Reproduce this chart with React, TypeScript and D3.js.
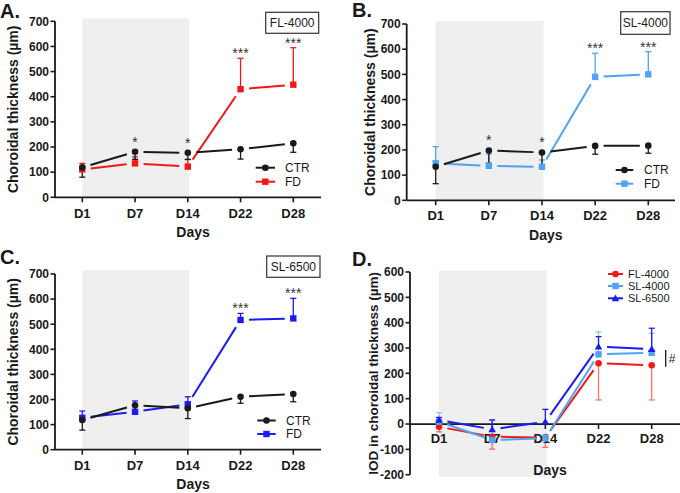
import React from "react";
import * as d3 from "d3";

// ---------- data ----------
const days = ["D1", "D7", "D14", "D22", "D28"];
const thickTicks = [0, 100, 200, 300, 400, 500, 600, 700];
const iodTicks = [-200, -100, 0, 100, 200, 300, 400, 500, 600];

// Panel A (FL-4000)
const ctrA = [119, 181, 177, 191, 215];
const ctrAErr = [39, 30, 26, 39, 36];
const fdA = [111, 135, 122, 430, 448];
const fdAErr = [24, 26, 28, 123, 147];
const sigA = ["", "*", "*", "***", "***"];

// Panel B (SL-4000)
const ctrB = [133, 198, 190, 216, 217];
const ctrBErr = [67, 51, 67, 33, 30];
const fdB = [147, 137, 133, 490, 500];
const fdBErr = [66, 47, 27, 94, 90];
const sigB = ["", "*", "*", "***", "***"];

// Panel C (SL-6500)
const ctrC = [118, 177, 165, 211, 222];
const ctrCErr = [40, 20, 41, 26, 31];
const fdC = [127, 151, 181, 517, 523];
const fdCErr = [27, 43, 30, 26, 80];
const sigC = ["", "", "", "***", "***"];

// Panel D (IOD)
const iodFL4000 = [-11, -50, -54, 240, 232];
const iodFL4000Err = [20, 49, 38, 145, 137];
const iodSL4000 = [9, -63, -56, 275, 281];
const iodSL4000Err = [36, 80, 15, 89, 77];
const iodSL6500 = [16, -21, 9, 305, 296];
const iodSL6500Err = [10, 37, 49, 40, 82];

// ---------- styles ----------
const FONT = "'Liberation Sans', Arial, Helvetica, sans-serif";
const BLACK = "#1a1a1a";
const RED = "#f21818";
const LBLUE = "#4fa3f2";
const DBLUE = "#1c1cf0";
const GRAY = "#efefef";

type Marker = "circle" | "square" | "triangle";
type Series = {
  name: string;
  values: number[];
  errs: number[];
  dir: number; // +1 up, -1 down
  color: string;
  errOpacity: number;
  marker: Marker;
};

type PanelCfg = {
  letter: string;
  letterX: number;
  letterY: number;
  axisX: number;
  axisEndX: number;
  xFirst: number;
  xLast: number;
  yDomain: [number, number];
  yRange: [number, number];
  ticks: number[];
  grayTopVal: number;
  grayBottom: number;
  xAxisAtZero: boolean;
  tickLabelDy: number;
  daysY: number;
  yLabel: string;
  yLabelX: number;
  yLabelSize: number;
  series: Series[];
  sig?: string[];
  box?: { text: string; x: number; y: number; w: number; h: number };
  legend: { x1: number; x2: number; tx: number; ys: number[]; size: number };
  hash?: { x: number; y1: number; y2: number };
};

function MarkerShape({ m, x, y, color }: { m: Marker; x: number; y: number; color: string }) {
  if (m === "circle") return <circle cx={x} cy={y} r={3.3} fill={color} />;
  if (m === "square") return <rect x={x - 3.2} y={y - 3.2} width={6.4} height={6.4} fill={color} />;
  const s = 3.8;
  return <path d={`M${x},${y - s}L${x + s},${y + s * 0.75}L${x - s},${y + s * 0.75}Z`} fill={color} />;
}

function gapSeg(p: [number, number], q: [number, number], gap: number) {
  const dx = q[0] - p[0];
  const dy = q[1] - p[1];
  const len = Math.sqrt(dx * dx + dy * dy);
  const ux = dx / len;
  const uy = dy / len;
  return [p[0] + ux * gap, p[1] + uy * gap, q[0] - ux * gap, q[1] - uy * gap];
}

function Panel({ c }: { c: PanelCfg }) {
  const x = d3.scalePoint<string>().domain(days).range([c.xFirst, c.xLast]);
  const y = d3.scaleLinear().domain(c.yDomain).range(c.yRange);
  const xAxisY = c.xAxisAtZero ? y(0) : c.yRange[0];
  const grayX1 = x("D1")!;
  const grayX2 = x("D14")! + 1.5;
  const grayTop = y(c.grayTopVal);
  const yMid = (c.yRange[0] + c.yRange[1]) / 2;

  return (
    <g fontFamily={FONT}>
      <rect x={grayX1} y={grayTop} width={grayX2 - grayX1} height={c.grayBottom - grayTop} fill={GRAY} />
      {/* y axis */}
      <line x1={c.axisX} x2={c.axisX} y1={c.yRange[0]} y2={c.yRange[1]} stroke={BLACK} strokeWidth={1.8} />
      {c.ticks.map((t) => (
        <g key={"yt" + t}>
          <line x1={c.axisX - 4.5} x2={c.axisX} y1={y(t)} y2={y(t)} stroke={BLACK} strokeWidth={1.6} />
          <text x={c.axisX - 6} y={y(t) + 4.3} textAnchor="end" fontSize={12} fontWeight="bold" fill={BLACK}>
            {t}
          </text>
        </g>
      ))}
      {/* x axis */}
      <line x1={c.axisX} x2={c.axisEndX} y1={xAxisY} y2={xAxisY} stroke={BLACK} strokeWidth={1.8} />
      {days.map((d) => (
        <g key={"xt" + d}>
          <line x1={x(d)!} x2={x(d)!} y1={xAxisY} y2={xAxisY + 5} stroke={BLACK} strokeWidth={1.6} />
          <text x={x(d)!} y={xAxisY + c.tickLabelDy} textAnchor="middle" fontSize={13} fontWeight="bold" fill={BLACK}>
            {d}
          </text>
        </g>
      ))}
      <text x={(c.axisX + c.axisEndX) / 2 + 5} y={c.daysY} textAnchor="middle" fontSize={14} fontWeight="bold" fill={BLACK}>
        Days
      </text>
      <text
        transform={`translate(${c.yLabelX},${yMid}) rotate(-90)`}
        textAnchor="middle"
        fontSize={c.yLabelSize}
        fontWeight="bold"
        fill={BLACK}
      >
        {c.yLabel}
      </text>
      <text x={c.letterX} y={c.letterY} fontSize={20} fontWeight="bold" fill={BLACK}>
        {c.letter}
      </text>

      {/* series lines */}
      {c.series.map((s) => (
        <g key={"l" + s.name}>
          {s.values.slice(1).map((v, i) => {
            const p: [number, number] = [x(days[i])!, y(s.values[i])];
            const q: [number, number] = [x(days[i + 1])!, y(v)];
            const [a, b, cc, dd] = gapSeg(p, q, 8.5);
            return <line key={i} x1={a} y1={b} x2={cc} y2={dd} stroke={s.color} strokeWidth={2} />;
          })}
        </g>
      ))}
      {/* error bars */}
      {c.series.map((s) => (
        <g key={"e" + s.name} opacity={s.errOpacity}>
          {s.values.map((v, i) => {
            const xv = x(days[i])!;
            const y1 = y(v);
            const y2 = y(v + s.dir * s.errs[i]);
            return (
              <g key={i}>
                <line x1={xv} x2={xv} y1={y1} y2={y2} stroke={s.color} strokeWidth={1.3} />
                <line x1={xv - 3} x2={xv + 3} y1={y2} y2={y2} stroke={s.color} strokeWidth={1.3} />
              </g>
            );
          })}
        </g>
      ))}
      {/* markers */}
      {c.series.map((s) => (
        <g key={"m" + s.name}>
          {s.values.map((v, i) => (
            <MarkerShape key={i} m={s.marker} x={x(days[i])!} y={y(v)} color={s.color} />
          ))}
        </g>
      ))}
      {/* significance stars */}
      {c.sig &&
        c.sig.map((st, i) => {
          if (!st) return null;
          const top = Math.max(
            ...c.series.map((s) => (s.dir > 0 ? s.values[i] + s.errs[i] : s.values[i]))
          );
          const off = st.length > 1 ? 8 : 13;
          const cy = y(top) - off;
          return (
            <text key={"s" + i} x={x(days[i])!} y={cy + 8} textAnchor="middle" fontSize={14} fill="#333">
              {st}
            </text>
          );
        })}
      {/* box label */}
      {c.box && (
        <g>
          <rect x={c.box.x} y={c.box.y} width={c.box.w} height={c.box.h} fill="white" stroke="#333" strokeWidth={1.2} />
          <text x={c.box.x + c.box.w / 2} y={c.box.y + c.box.h / 2 + 4.3} textAnchor="middle" fontSize={12} fill={BLACK}>
            {c.box.text}
          </text>
        </g>
      )}
      {/* legend */}
      {c.legend.ys.map((ly, i) => {
        const s = c.series[c.series.length === 2 ? 1 - i : i];
        const mx = (c.legend.x1 + c.legend.x2) / 2;
        return (
          <g key={"lg" + i}>
            <line x1={c.legend.x1} x2={c.legend.x2} y1={ly} y2={ly} stroke={s.color} strokeWidth={2} />
            <MarkerShape m={s.marker} x={mx} y={ly} color={s.color} />
            <text x={c.legend.tx} y={ly + c.legend.size * 0.36} fontSize={c.legend.size} fill={BLACK}>
              {s.name}
            </text>
          </g>
        );
      })}
      {c.hash && (
        <g>
          <line x1={c.hash.x} x2={c.hash.x} y1={c.hash.y1} y2={c.hash.y2} stroke={BLACK} strokeWidth={1.3} />
          <text x={c.hash.x + 3} y={(c.hash.y1 + c.hash.y2) / 2 + 4.5} fontSize={12} fill={BLACK}>
            #
          </text>
        </g>
      )}
    </g>
  );
}

function mk(name: string, values: number[], errs: number[], dir: number, color: string, marker: Marker, errOpacity = 1): Series {
  return { name, values, errs, dir, color, marker, errOpacity };
}

const panels: PanelCfg[] = [
  {
    letter: "A.",
    letterX: 0,
    letterY: 18,
    axisX: 55,
    axisEndX: 321,
    xFirst: 82.3,
    xLast: 293.3,
    yDomain: [0, 700],
    yRange: [197.3, 21.3],
    ticks: thickTicks,
    grayTopVal: 712,
    grayBottom: 197.3,
    xAxisAtZero: false,
    tickLabelDy: 20.5,
    daysY: 237,
    yLabel: "Choroidal thickness (µm)",
    yLabelX: 18,
    yLabelSize: 14,
    series: [mk("FD", fdA, fdAErr, 1, RED, "square"), mk("CTR", ctrA, ctrAErr, -1, BLACK, "circle")],
    sig: sigA,
    box: { text: "FL-4000", x: 265.7, y: 12.3, w: 53, h: 21 },
    legend: { x1: 255.7, x2: 275, tx: 285, ys: [167.7, 181.7], size: 12 },
  },
  {
    letter: "B.",
    letterX: 352,
    letterY: 17,
    axisX: 406.7,
    axisEndX: 675,
    xFirst: 435.7,
    xLast: 648.3,
    yDomain: [0, 700],
    yRange: [200.3, 24],
    ticks: thickTicks,
    grayTopVal: 712,
    grayBottom: 200.3,
    xAxisAtZero: false,
    tickLabelDy: 19.5,
    daysY: 240,
    yLabel: "Choroidal thickness (µm)",
    yLabelX: 375,
    yLabelSize: 14,
    series: [mk("FD", fdB, fdBErr, 1, LBLUE, "square"), mk("CTR", ctrB, ctrBErr, -1, BLACK, "circle")],
    sig: sigB,
    box: { text: "SL-4000", x: 620.7, y: 11.7, w: 49.3, h: 22.6 },
    legend: { x1: 615.7, x2: 633.3, tx: 644, ys: [170, 183.7], size: 12 },
  },
  {
    letter: "C.",
    letterX: 0,
    letterY: 264,
    axisX: 55,
    axisEndX: 321,
    xFirst: 82.3,
    xLast: 293.3,
    yDomain: [0, 700],
    yRange: [449.7, 274],
    ticks: thickTicks,
    grayTopVal: 715,
    grayBottom: 449.7,
    xAxisAtZero: false,
    tickLabelDy: 20,
    daysY: 489,
    yLabel: "Choroidal thickness (µm)",
    yLabelX: 18,
    yLabelSize: 14,
    series: [mk("FD", fdC, fdCErr, 1, DBLUE, "square"), mk("CTR", ctrC, ctrCErr, -1, BLACK, "circle")],
    sig: sigC,
    box: { text: "SL-6500", x: 266.7, y: 256, w: 53.3, h: 21.3 },
    legend: { x1: 257.3, x2: 275.7, tx: 286, ys: [420.5, 434], size: 12 },
  },
  {
    letter: "D.",
    letterX: 352,
    letterY: 266,
    axisX: 410,
    axisEndX: 680,
    xFirst: 439,
    xLast: 651.7,
    yDomain: [-200, 600],
    yRange: [474.7, 272],
    ticks: iodTicks,
    grayTopVal: 606,
    grayBottom: 476.7,
    xAxisAtZero: true,
    tickLabelDy: 18.5,
    daysY: 475,
    yLabel: "IOD in choroidal thickness (µm)",
    yLabelX: 378,
    yLabelSize: 13.5,
    series: [
      mk("FL-4000", iodFL4000, iodFL4000Err, -1, RED, "circle", 0.6),
      mk("SL-4000", iodSL4000, iodSL4000Err, 1, LBLUE, "square", 0.6),
      mk("SL-6500", iodSL6500, iodSL6500Err, 1, DBLUE, "triangle", 1),
    ],
    legend: { x1: 608, x2: 623, tx: 628, ys: [274, 286, 298.3], size: 11 },
    hash: { x: 665.7, y1: 350, y2: 366.7 },
  },
];

export default function App() {
  return (
    <svg width={680} height={493} style={{ position: "absolute", left: 0, top: 0, background: "white" }}>
      <rect width={680} height={493} fill="white" />
      {panels.map((p) => (
        <Panel key={p.letter} c={p} />
      ))}
    </svg>
  );
}
